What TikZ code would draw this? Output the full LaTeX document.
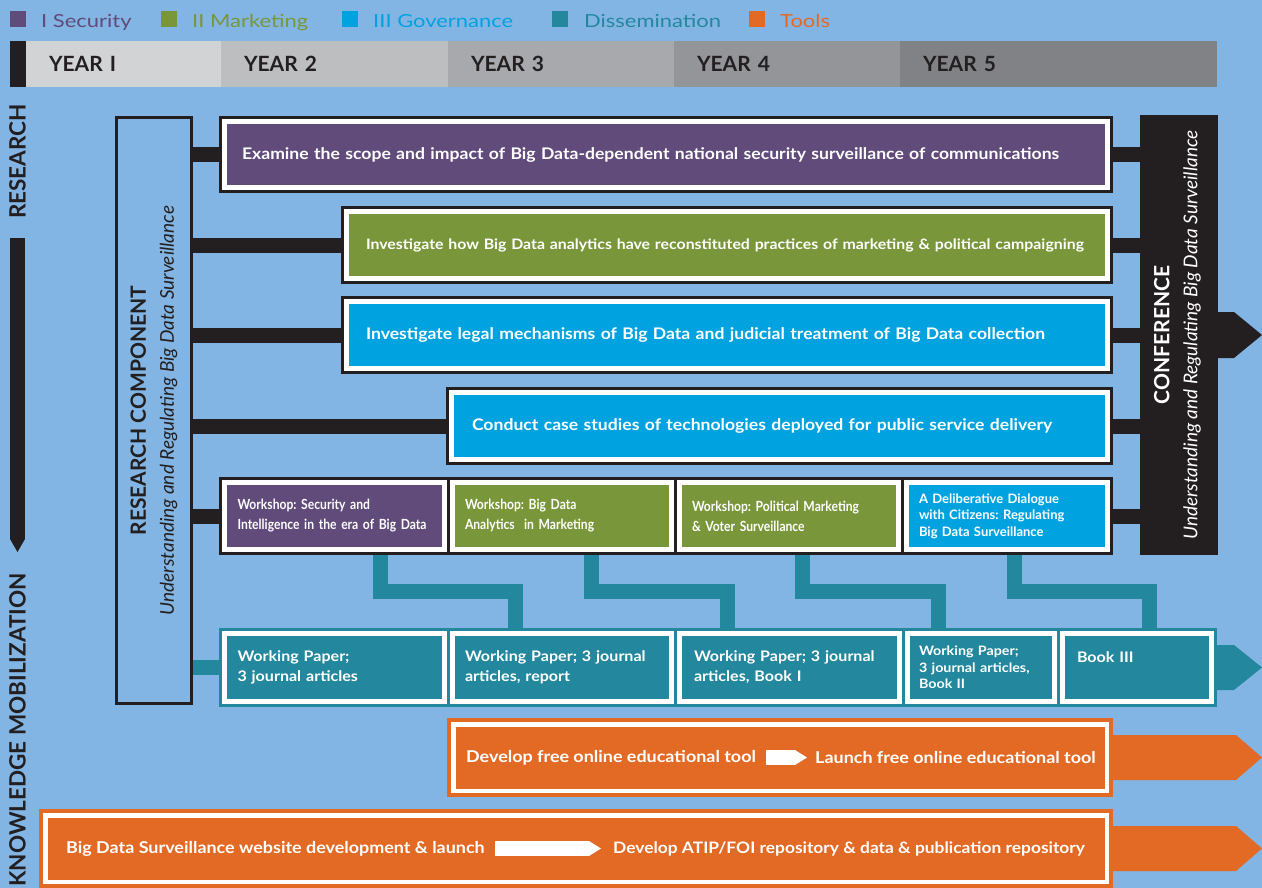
\documentclass[tikz,border=0pt]{standalone}
\usepackage{fontspec}
\setmainfont{Lato}
\newfontfamily\narrowlato{Lato}[FakeStretch=0.865]
\newfontfamily\widelato{Lato}[FakeStretch=1.1]
\newfontfamily\leglato{Lato}[FakeStretch=1.22]
\usetikzlibrary{positioning,arrows.meta}
\definecolor{skyback}{HTML}{82B5E3}
\definecolor{inkblack}{HTML}{231F20}
\definecolor{secpurple}{HTML}{614B7B}
\definecolor{mktgreen}{HTML}{7A963B}
\definecolor{govblue}{HTML}{00A3DF}
\definecolor{dissteal}{HTML}{23889D}
\definecolor{toolorange}{HTML}{E36A25}
\definecolor{yrone}{HTML}{D1D3D4}
\definecolor{yrtwo}{HTML}{BCBEC0}
\definecolor{yrthree}{HTML}{A7A9AC}
\definecolor{yrfour}{HTML}{939598}
\definecolor{yrfive}{HTML}{808285}
\pgfdeclarelayer{sky}
\pgfdeclarelayer{behind}
\pgfsetlayers{sky,behind,main}
\tikzset{
  cellbase/.style={rectangle, draw=white, line width=5pt, outer sep=2.5pt, inner ysep=0pt, align=left, text=white},
  inkcell/.style={cellbase, fill=#1, preaction={draw=inkblack, line width=11pt}},
  tealcell/.style={cellbase, fill=dissteal, preaction={draw=dissteal, line width=11pt}},
  toolcell/.style={cellbase, fill=toolorange, line width=4.5pt, outer sep=2.25pt, preaction={draw=toolorange, line width=12.5pt}},
  taskfont/.style={font=\widelato\bfseries\fontsize{16}{18}\selectfont},
  wsfont/.style={font=\narrowlato\bfseries\fontsize{14}{20}\selectfont},
  wssmall/.style={font=\bfseries\fontsize{13}{16.5}\selectfont},
  wpfont/.style={font=\widelato\bfseries\fontsize{14.6}{20}\selectfont},
  wpsmall/.style={font=\widelato\bfseries\fontsize{13}{16.5}\selectfont},
  tooltext/.style={inner sep=0pt, anchor=west, text=white, font=\widelato\bfseries\fontsize{16.3}{20}\selectfont},
  inkbar/.style={draw=inkblack, line width=15pt},
  tealbar/.style={draw=dissteal, line width=15pt, line join=miter},
  whitearrow/.style={draw=white, line width=15pt, -{Triangle[length=12pt,width=15pt,line width=0pt]}},
  yearcell/.style={rectangle, fill=#1, minimum height=46pt, inner xsep=23pt, inner ysep=0pt, outer sep=0pt, align=left, text=inkblack, font=\bfseries\fontsize{21}{21}\selectfont},
  legsq/.style={rectangle, minimum size=16pt, inner sep=0pt, fill=#1},
  legtxt/.style={anchor=base west, inner sep=0pt, text=#1, font=\leglato\fontsize{18}{18}\selectfont},
  sidelabel/.style={rotate=90, inner sep=0pt, text=inkblack, font=\bfseries\fontsize{22.5}{22.5}\selectfont},
  vtitle/.style={rotate=90, align=center, inner sep=0pt, text=#1, font=\fontsize{21}{28}\selectfont}
}
\begin{document}
\frenchspacing
\begin{tikzpicture}[x=1pt, y=-1pt]
    \begin{pgfonlayer}{sky}
        \fill[skyback] (0,0) rectangle (1262,888);
    \end{pgfonlayer}
    \useasboundingbox (0,0) rectangle (1262,888);

    \node[legsq=secpurple] (sqsec) at (18,19) {};
    \node[legtxt=secpurple] (lgsec) at (41,27.5) {I Security};
    \node[legsq=mktgreen] (sqmkt) at (169,19) {};
    \node[legtxt=mktgreen] (lgmkt) at (192,27.5) {II Marketing};
    \node[legsq=govblue] (sqgov) at (350,19) {};
    \node[legtxt=govblue] (lggov) at (373,27.5) {III Governance};
    \node[legsq=dissteal] (sqdis) at (560,19) {};
    \node[legtxt=dissteal] (lgdis) at (584,27.5) {Dissemination};
    \node[legsq=toolorange] (sqtool) at (757,19) {};
    \node[legtxt=toolorange] (lgtool) at (780,27.5) {Tools};

    \node[fill=inkblack, minimum width=16pt, minimum height=46pt, inner sep=0pt, outer sep=0pt, anchor=west] (yrstub) at (10,64) {};
    \node[yearcell=yrone, text width=149pt, right=0pt of yrstub] (yr1) {YEAR I};
    \node[yearcell=yrtwo, text width=181pt, right=0pt of yr1] (yr2) {YEAR 2};
    \node[yearcell=yrthree, text width=180pt, right=0pt of yr2] (yr3) {YEAR 3};
    \node[yearcell=yrfour, text width=180pt, right=0pt of yr3] (yr4) {YEAR 4};
    \node[yearcell=yrfive, text width=271pt, right=0pt of yr4] (yr5) {YEAR 5};

    \node[sidelabel] (research) at (17.5,161.5) {RESEARCH};
    \node[sidelabel, anchor=east] (knowmob) at (17.5,573) {KNOWLEDGE MOBILIZATION};
    \draw[inkblack, line width=15pt, -{Triangle[length=13pt,width=15pt,line width=0pt]}, shorten <=19pt, shorten >=21pt] (research.west) -- (knowmob.east);

    \node[draw=inkblack, line width=3pt, minimum width=75pt, minimum height=586pt, outer sep=1.5pt] (rescomp) at (154,410.5) {};
    \node[vtitle=inkblack] (rescomptxt) at (rescomp.center) {{\bfseries RESEARCH COMPONENT}\\{\fontsize{19}{28}\selectfont\itshape Understanding and Regulating Big Data Surveillance}};

    \node[fill=inkblack, minimum width=78pt, minimum height=440pt, inner sep=0pt] (conf) at (1179,335) {};
    \node[vtitle=white] (conftxt) at (1177.5,335) {{\bfseries CONFERENCE}\\{\fontsize{19}{28}\selectfont\itshape Understanding and Regulating Big Data Surveillance}};

    \node[inkcell=secpurple, taskfont, text width=848pt, inner xsep=17.5pt, minimum height=66pt] (exam) at (666,154.5) {Examine the scope and impact of Big Data-dependent national security surveillance of communications};
    \node[inkcell=mktgreen, font=\widelato\bfseries\fontsize{14.4}{18}\selectfont, text width=722pt, inner xsep=19.5pt, minimum height=67pt] (mark) at (727,245) {Investigate how Big Data analytics have reconstituted practices of marketing \& political campaigning};
    \node[inkcell=govblue, taskfont, text width=722pt, inner xsep=19.5pt, minimum height=67pt] (legal) at (727,335) {Investigate legal mechanisms of Big Data and judicial treatment of Big Data collection};
    \node[inkcell=govblue, taskfont, text width=615pt, inner xsep=20.5pt, minimum height=67pt] (cases) at (779.5,426) {Conduct case studies of technologies deployed for public service delivery};

    \node[inkcell=secpurple, wsfont, text width=193.5pt, inner xsep=13pt, minimum height=67pt] (ws1) at (334.25,516) {Workshop: Security and\\Intelligence in the era of Big Data};
    \node[inkcell=mktgreen, wsfont, text width=193pt, inner xsep=13pt, minimum height=67pt] (ws2) at (561.5,516) {Workshop: Big Data\\Analytics~~in Marketing};
    \node[inkcell=mktgreen, wsfont, text width=193pt, inner xsep=13pt, minimum height=67pt] (ws3) at (788.5,516) {Workshop: Political Marketing\\\& Voter Surveillance};
    \node[inkcell=govblue, wssmall, text width=175.5pt, inner xsep=13pt, minimum height=67pt] (ws4) at (1006.75,516) {A Deliberative Dialogue\\with Citizens: Regulating\\Big Data Surveillance};

    \node[tealcell, wpfont, text width=193.5pt, inner xsep=13pt, minimum height=68pt] (wp1) at (334.25,667.5) {Working Paper;\\3 journal articles};
    \node[tealcell, wpfont, text width=193pt, inner xsep=13pt, minimum height=68pt] (wp2) at (561.5,667.5) {Working Paper; 3 journal\\articles, report};
    \node[tealcell, wpfont, text width=190.5pt, inner xsep=15pt, minimum height=68pt] (wp3) at (789.25,667.5) {Working Paper; 3 journal\\articles, Book I};
    \node[tealcell, wpsmall, text width=124pt, inner xsep=11.5pt, minimum height=68pt] (wp4) at (981,667.5) {Working Paper;\\3 journal articles,\\Book II};
    \node[tealcell, wpfont, text width=120pt, inner xsep=14.5pt, minimum height=68pt] (wp5) at (1137,667.5) {Book III\\~};

    \node[toolcell, minimum width=653.5pt, minimum height=66.5pt] (edutool) at (780,757.5) {};
    \node[toolcell, minimum width=1061.5pt, minimum height=66.5pt] (website) at (576,848.5) {};
    \node[tooltext] (devtool) at (466,757.5) {Develop free online educational tool};
    \node[tooltext] (launchtool) at (815,757.5) {Launch free online educational tool};
    \node[tooltext] (webdev) at (66,848.5) {Big Data Surveillance website development \& launch};
    \node[tooltext, font=\widelato\bfseries\fontsize{15.8}{20}\selectfont] (atip) at (613,848.5) {Develop ATIP/FOI repository \& data \& publication repository};
    \draw[whitearrow, shorten <=10pt, shorten >=8pt] (devtool.east) -- (launchtool.west);
    \draw[whitearrow, shorten <=10pt, shorten >=12pt] (webdev.east) -- (atip.west);

    \begin{pgfonlayer}{behind}
        \foreach \row in {exam,mark,legal,cases,ws1}
            \draw[inkbar] (rescomp.east |- \row.west) -- (\row.west);
        \foreach \row in {exam,mark,legal,cases,ws4}
            \draw[inkbar] (\row.east) -- (conf.west |- \row.east);
        \draw[tealbar] (rescomp.east |- wp1.west) -- (wp1.west);
        \foreach \src/\sx/\dst/\dx in {ws1/46/wp2/-46.5, ws2/29.5/wp3/-62.25, ws3/13.5/wp4/-43, ws4/7.25/wp5/12}
            \draw[tealbar] ([xshift=\sx pt]\src.south) -- ++(0,39.5) -| ([xshift=\dx pt]\dst.north);
        \fill[inkblack] (1216,312) -- (1234,312) -- (1262,335) -- (1234,358) -- (1216,358) -- cycle;
        \fill[dissteal] (1214,645) -- (1234,645) -- (1262,667.5) -- (1234,690) -- (1214,690) -- cycle;
        \fill[toolorange] (1110,735) -- (1236,735) -- (1262,757.5) -- (1236,780) -- (1110,780) -- cycle;
        \fill[toolorange] (1110,826) -- (1236,826) -- (1262,848.5) -- (1236,871) -- (1110,871) -- cycle;
    \end{pgfonlayer}
\end{tikzpicture}
\end{document}
